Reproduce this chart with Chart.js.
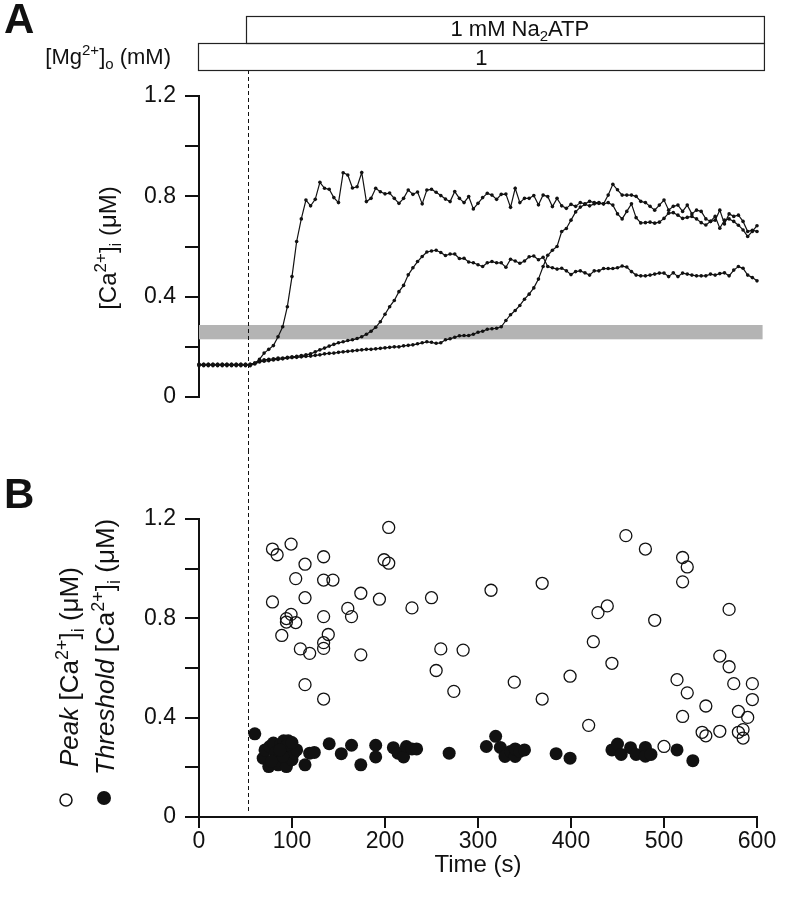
<!DOCTYPE html>
<html>
<head>
<meta charset="utf-8">
<script src="https://cdn.jsdelivr.net/npm/chart.js@4.4.1/dist/chart.umd.min.js"></script>
<style>
  html, body { margin: 0; padding: 0; background: #fff; }
  #wrap { position: relative; width: 788px; height: 899px; }
  #panelA { position: absolute; left: 0; top: 0; }
  #panelB { position: absolute; left: 0; top: 450px; }
</style>
</head>
<body>
<div id="wrap">
  <canvas id="panelA" width="788" height="450"></canvas>
  <canvas id="panelB" width="788" height="449"></canvas>
</div>
<script>
'use strict';

// ---- data ----
const SAMPLE_STEP_S = 5;      // traces sampled every 5 s, 0..600 s
const ATP_ON_S = 53;          // Na2ATP application (dashed line)
const BAR_END_S = 608;
const THRESHOLD_BAND = [0.23, 0.287];

const yTicks = [0, 0.4, 0.8, 1.2];
const xTicks = [0, 100, 200, 300, 400, 500, 600];

const traceFast = [
  0.13, 0.13, 0.125, 0.13, 0.13, 0.125, 0.13, 0.13, 0.125, 0.13,
  0.13, 0.13, 0.135, 0.15, 0.175, 0.19, 0.205, 0.24, 0.28, 0.36,
  0.48, 0.62, 0.71, 0.785, 0.762, 0.788, 0.856, 0.832, 0.828, 0.795,
  0.775, 0.894, 0.885, 0.833, 0.838, 0.895, 0.779, 0.792, 0.832, 0.818,
  0.81, 0.813, 0.792, 0.772, 0.792, 0.825, 0.808, 0.817, 0.77, 0.825,
  0.828, 0.816, 0.803, 0.789, 0.779, 0.819, 0.792, 0.775, 0.799, 0.75,
  0.772, 0.795, 0.812, 0.805, 0.788, 0.808, 0.809, 0.756, 0.832, 0.775,
  0.792, 0.792, 0.803, 0.766, 0.805, 0.799, 0.759, 0.792, 0.762, 0.752,
  0.768, 0.76, 0.775, 0.77, 0.78, 0.775, 0.775, 0.77, 0.775, 0.765,
  0.73, 0.71, 0.74, 0.77, 0.715, 0.694, 0.695, 0.697, 0.693, 0.697,
  0.712, 0.733, 0.735, 0.725, 0.712, 0.716, 0.72, 0.71, 0.695, 0.686,
  0.7, 0.72, 0.673, 0.705, 0.71, 0.7, 0.685, 0.666, 0.64, 0.66,
  0.683
];

const traceMid = [
  0.13, 0.125, 0.13, 0.13, 0.125, 0.13, 0.13, 0.125, 0.13, 0.13,
  0.125, 0.13, 0.135, 0.145, 0.148, 0.15, 0.152, 0.155, 0.155, 0.158,
  0.16, 0.162, 0.165, 0.168, 0.172, 0.18, 0.188, 0.195, 0.203, 0.21,
  0.216, 0.22, 0.225, 0.228, 0.233, 0.24, 0.25, 0.262, 0.278, 0.3,
  0.33, 0.36, 0.385, 0.42, 0.445, 0.487, 0.515, 0.54, 0.56, 0.578,
  0.582, 0.585, 0.576, 0.564, 0.57, 0.57, 0.552, 0.553, 0.538, 0.535,
  0.527, 0.52, 0.535, 0.54, 0.535, 0.535, 0.517, 0.549, 0.542, 0.533,
  0.542, 0.559, 0.562, 0.547, 0.557, 0.52, 0.515, 0.51, 0.513, 0.503,
  0.488, 0.5, 0.503, 0.495, 0.486, 0.503, 0.503, 0.512, 0.512, 0.512,
  0.515, 0.522, 0.518, 0.5, 0.486, 0.483, 0.483, 0.486, 0.49, 0.494,
  0.494, 0.48, 0.495, 0.48, 0.494, 0.49, 0.486, 0.483, 0.483, 0.483,
  0.49, 0.486, 0.492, 0.495, 0.483, 0.506, 0.52, 0.513, 0.486, 0.476,
  0.463
];

const traceSlow = [
  0.125, 0.13, 0.13, 0.125, 0.13, 0.13, 0.125, 0.13, 0.13, 0.125,
  0.13, 0.125, 0.132, 0.14, 0.143, 0.145, 0.148, 0.15, 0.152, 0.155,
  0.157, 0.158, 0.16, 0.162, 0.163, 0.166, 0.168, 0.172, 0.174, 0.175,
  0.178, 0.18, 0.182, 0.184, 0.186, 0.188, 0.19, 0.19, 0.192, 0.194,
  0.196, 0.198, 0.2, 0.2, 0.204, 0.206, 0.208, 0.212, 0.216, 0.22,
  0.218, 0.214, 0.216, 0.228, 0.232, 0.238, 0.244, 0.245, 0.245, 0.25,
  0.258, 0.262, 0.27, 0.272, 0.274, 0.28, 0.305, 0.328, 0.345, 0.365,
  0.39, 0.41, 0.435, 0.47, 0.52, 0.565, 0.585, 0.6, 0.66, 0.672,
  0.705, 0.738, 0.757, 0.768, 0.762, 0.77, 0.772, 0.77, 0.805, 0.848,
  0.826, 0.805, 0.805, 0.805, 0.8, 0.78, 0.775, 0.76, 0.745, 0.765,
  0.785, 0.745, 0.76, 0.765, 0.74, 0.765, 0.73, 0.745, 0.74, 0.71,
  0.7, 0.705, 0.745, 0.69, 0.73, 0.72, 0.725, 0.7, 0.66, 0.665,
  0.66
];

// [time (s), peak [Ca2+]i (uM)]
const peakPoints = [
  [79, 1.079], [84, 1.056], [99, 1.099], [79, 0.866], [114, 1.018], [104, 0.96],
  [114, 0.883], [99, 0.816], [94, 0.799], [94, 0.785], [104, 0.783], [89, 0.731],
  [109, 0.677], [119, 0.659], [114, 0.533], [134, 1.048], [134, 0.954], [144, 0.954],
  [134, 0.807], [139, 0.735], [134, 0.702], [134, 0.679], [134, 0.475], [174, 0.901],
  [160, 0.84], [164, 0.807], [174, 0.653], [194, 0.877], [199, 1.036], [204, 1.022],
  [204, 1.166], [229, 0.842], [250, 0.883], [255, 0.59], [260, 0.677], [274, 0.506],
  [284, 0.672], [314, 0.913], [369, 0.941], [339, 0.543], [369, 0.475], [399, 0.567],
  [419, 0.369], [424, 0.706], [429, 0.823], [439, 0.85], [444, 0.619], [459, 1.133],
  [480, 1.079], [490, 0.792], [500, 0.284], [520, 1.045], [525, 1.007], [520, 0.947],
  [514, 0.553], [525, 0.5], [520, 0.405], [545, 0.447], [541, 0.341], [545, 0.327],
  [560, 0.648], [570, 0.605], [570, 0.836], [560, 0.345], [575, 0.537], [595, 0.537],
  [595, 0.473], [580, 0.425], [590, 0.401], [580, 0.341], [585, 0.352], [585, 0.318]
];

// [time (s), threshold [Ca2+]i (uM)]
const thresholdPoints = [
  [60, 0.335], [69, 0.237], [75, 0.203], [71, 0.27], [76, 0.284], [80, 0.298],
  [82, 0.258], [85, 0.231], [85, 0.21], [88, 0.293], [91, 0.307], [93, 0.274],
  [94, 0.203], [96, 0.307], [98, 0.284], [100, 0.231], [102, 0.258], [105, 0.27],
  [90, 0.244], [78, 0.224], [95, 0.29], [87, 0.27], [100, 0.3],
  [114, 0.21], [119, 0.257], [124, 0.26], [140, 0.295], [153, 0.255], [164, 0.289],
  [174, 0.21], [190, 0.289], [190, 0.242], [209, 0.279], [214, 0.257], [220, 0.242],
  [223, 0.284], [229, 0.274], [234, 0.274], [269, 0.257], [309, 0.284], [319, 0.325],
  [324, 0.28], [329, 0.244], [335, 0.264], [340, 0.244], [340, 0.274], [345, 0.264],
  [350, 0.27], [384, 0.255], [399, 0.237], [444, 0.27], [450, 0.294], [454, 0.252],
  [464, 0.279], [470, 0.252], [480, 0.28], [480, 0.245], [486, 0.252], [514, 0.27],
  [531, 0.227]
];

// ---- style helpers ----
const FONT = '"Liberation Sans", Arial, Helvetica, sans-serif';
const INK = '#111';
const TICK_SIZE = 23;

function drawRich(ctx, parts, x, y, align, size) {
  const small = Math.round(size * 0.7);
  const fontOf = p => `${p.italic ? 'italic ' : ''}${(p.sup || p.sub) ? small : size}px ${FONT}`;
  let total = 0;
  parts.forEach(p => { ctx.font = fontOf(p); total += ctx.measureText(p.t).width; });
  let cx = align === 'right' ? x - total : align === 'center' ? x - total / 2 : x;
  ctx.textAlign = 'left';
  ctx.textBaseline = 'alphabetic';
  parts.forEach(p => {
    ctx.font = fontOf(p);
    const dy = p.sup ? -size * 0.4 : p.sub ? size * 0.22 : 0;
    ctx.fillText(p.t, cx, y + dy);
    cx += ctx.measureText(p.t).width;
  });
}

function drawRotated(ctx, parts, x, y, align, size) {
  ctx.save();
  ctx.translate(x, y);
  ctx.rotate(-Math.PI / 2);
  drawRich(ctx, parts, 0, 0, align, size);
  ctx.restore();
}

function toXY(values) {
  return values.map((v, i) => ({ x: i * SAMPLE_STEP_S, y: v }));
}

function tickLabel(value) {
  const r = Math.round(value * 10) / 10;
  return yTicks.some(t => Math.abs(t - r) < 1e-6) && Math.abs(value - r) < 1e-6 ? String(r) : '';
}

function yAxis(width) {
  return {
    min: 0,
    max: 1.2,
    afterFit: s => { s.width = width; },
    border: { display: true, color: INK, width: 2 },
    grid: { drawOnChartArea: false, drawTicks: true, tickLength: 14, color: INK, lineWidth: 2 },
    ticks: {
      stepSize: 0.2,
      autoSkip: false,
      padding: 9,
      color: INK,
      font: { family: FONT, size: TICK_SIZE },
      callback: v => tickLabel(v)
    }
  };
}

function dashedOnset(chart, yTop, yBottom) {
  const { ctx, scales: { x } } = chart;
  const px = Math.round(x.getPixelForValue(ATP_ON_S)) + 0.5;
  ctx.save();
  ctx.strokeStyle = INK;
  ctx.lineWidth = 1;
  ctx.setLineDash([4, 3]);
  ctx.beginPath();
  ctx.moveTo(px, yTop);
  ctx.lineTo(px, yBottom);
  ctx.stroke();
  ctx.restore();
}

// ---- panel A: traces ----
const panelAPlugin = {
  id: 'panelA',
  beforeDatasetsDraw(chart) {
    const { ctx, scales: { x, y } } = chart;
    // threshold band
    const top = y.getPixelForValue(THRESHOLD_BAND[1]);
    const bot = y.getPixelForValue(THRESHOLD_BAND[0]);
    ctx.save();
    ctx.fillStyle = '#b4b4b4';
    ctx.fillRect(x.getPixelForValue(0), top, x.getPixelForValue(BAR_END_S - 2) - x.getPixelForValue(0), bot - top);
    ctx.restore();
    dashedOnset(chart, 70, chart.height);
  },
  afterDraw(chart) {
    const { ctx, scales: { x } } = chart;
    const x0 = x.getPixelForValue(0) - 0.5;
    const xOn = Math.round(x.getPixelForValue(ATP_ON_S)) - 1.5;
    const xEnd = x.getPixelForValue(BAR_END_S);
    ctx.save();
    ctx.fillStyle = INK;
    ctx.strokeStyle = '#222';
    ctx.lineWidth = 1.2;
    ctx.strokeRect(xOn, 16.5, xEnd - xOn, 27);
    ctx.strokeRect(x0, 43.5, xEnd - x0, 27);
    drawRich(ctx, [{ t: '1 mM Na' }, { t: '2', sub: true }, { t: 'ATP' }], x.getPixelForValue(345), 36, 'center', 22);
    drawRich(ctx, [{ t: '1' }], (x0 + xEnd) / 2, 65, 'center', 22);
    drawRich(ctx, [{ t: '[Mg' }, { t: '2+', sup: true }, { t: ']' }, { t: 'o', sub: true }, { t: ' (mM)' }], 171, 64, 'right', 22);
    ctx.font = `bold 42px ${FONT}`;
    ctx.textAlign = 'left';
    ctx.textBaseline = 'alphabetic';
    ctx.fillText('A', 4, 33);
    drawRotated(ctx, [{ t: '[Ca' }, { t: '2+', sup: true }, { t: ']' }, { t: 'i', sub: true }, { t: ' (μM)' }], 116, 248, 'center', 24);
    ctx.restore();
  }
};

function traceDataset(values) {
  return {
    data: toXY(values),
    borderColor: INK,
    borderWidth: 1.2,
    pointRadius: 1.8,
    pointBackgroundColor: INK,
    pointBorderWidth: 0,
    tension: 0,
    clip: false
  };
}

new Chart(document.getElementById('panelA'), {
  type: 'line',
  data: { datasets: [traceDataset(traceFast), traceDataset(traceMid), traceDataset(traceSlow)] },
  options: {
    responsive: false,
    animation: false,
    events: [],
    layout: { padding: { left: 0, right: 31, top: 96, bottom: 53 } },
    plugins: { legend: { display: false }, tooltip: { enabled: false } },
    scales: {
      x: { type: 'linear', min: 0, max: 600, display: false },
      y: yAxis(199)
    }
  },
  plugins: [panelAPlugin]
});

// ---- panel B: peak / threshold scatter ----
const panelBPlugin = {
  id: 'panelB',
  beforeDatasetsDraw(chart) {
    dashedOnset(chart, 0, chart.chartArea.bottom - 3);
  },
  afterDraw(chart) {
    const { ctx } = chart;
    ctx.save();
    ctx.fillStyle = INK;
    ctx.strokeStyle = INK;
    ctx.font = `bold 42px ${FONT}`;
    ctx.textAlign = 'left';
    ctx.textBaseline = 'alphabetic';
    ctx.fillText('B', 4, 58);
    drawRotated(ctx, [{ t: 'Peak', italic: true }, { t: ' [Ca' }, { t: '2+', sup: true }, { t: ']' }, { t: 'i', sub: true }, { t: ' (μM)' }], 78, 317, 'left', 26);
    drawRotated(ctx, [{ t: 'Threshold', italic: true }, { t: ' [Ca' }, { t: '2+', sup: true }, { t: ']' }, { t: 'i', sub: true }, { t: ' (μM)' }], 114, 325, 'left', 26);
    ctx.lineWidth = 1.5;
    ctx.beginPath();
    ctx.arc(66, 350, 6, 0, Math.PI * 2);
    ctx.stroke();
    ctx.beginPath();
    ctx.arc(104, 348, 7, 0, Math.PI * 2);
    ctx.fill();
    ctx.restore();
  }
};

new Chart(document.getElementById('panelB'), {
  type: 'scatter',
  data: {
    datasets: [
      {
        label: 'Peak',
        data: peakPoints.map(([t, v]) => ({ x: t, y: v })),
        pointRadius: 6,
        pointBorderWidth: 1.3,
        pointBorderColor: INK,
        pointBackgroundColor: 'rgba(0,0,0,0)',
        clip: false
      },
      {
        label: 'Threshold',
        data: thresholdPoints.map(([t, v]) => ({ x: t, y: v })),
        pointRadius: 6.5,
        pointBorderWidth: 0,
        pointBackgroundColor: INK,
        clip: false
      }
    ]
  },
  options: {
    responsive: false,
    animation: false,
    events: [],
    layout: { padding: { left: 0, right: 31, top: 69, bottom: 0 } },
    plugins: { legend: { display: false }, tooltip: { enabled: false } },
    scales: {
      x: {
        type: 'linear',
        min: 0,
        max: 600,
        afterFit: s => { s.height = 82; },
        afterBuildTicks: s => { s.ticks = xTicks.map(v => ({ value: v })); },
        border: { display: true, color: INK, width: 2 },
        grid: { drawOnChartArea: false, drawTicks: true, tickLength: 11, color: INK, lineWidth: 2 },
        ticks: { padding: 0, color: INK, font: { family: FONT, size: TICK_SIZE } },
        title: {
          display: true,
          text: 'Time (s)',
          color: INK,
          font: { family: FONT, size: 24 },
          padding: { top: 0, bottom: 19 }
        }
      },
      y: yAxis(199)
    }
  },
  plugins: [panelBPlugin]
});
</script>
</body>
</html>
